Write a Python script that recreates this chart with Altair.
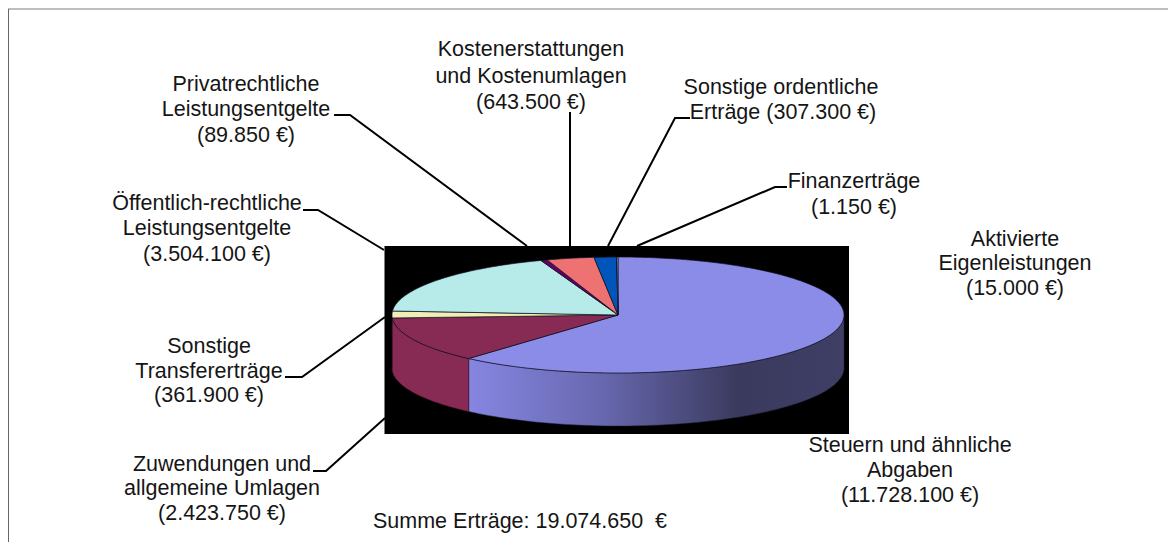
import math
import altair as alt
import pandas as pd

names = ["Steuern", "Zuwendungen", "Transfer", "Oeffentlich", "Privat", "Kosten", "Sonstige", "Finanz", "Aktiviert"]
values = [11728100, 2423750, 361900, 3504100, 89850, 643500, 307300, 1150, 15000]
colors = ["#8b8be8", "#872b55", "#f3efb4", "#b6ebe9", "#660066", "#ee7272", "#0055bb", "#333399", "#99ccff"]

label_lines = ["Steuern und ähnliche", "Abgaben", "(11.728.100 €)",
               "Zuwendungen und", "allgemeine Umlagen", "(2.423.750 €)",
               "Sonstige", "Transfererträge", "(361.900 €)",
               "Öffentlich-rechtliche", "Leistungsentgelte", "(3.504.100 €)",
               "Privatrechtliche", "Leistungsentgelte", "(89.850 €)",
               "Kostenerstattungen", "und Kostenumlagen", "(643.500 €)",
               "Sonstige ordentliche", "Erträge (307.300 €)",
               "Finanzerträge", "(1.150 €)",
               "Aktivierte", "Eigenleistungen", "(15.000 €)"]
label_x = [910, 910, 910, 222, 222, 222, 209, 209, 209, 207, 207, 207, 246, 246, 246,
           531, 531, 531, 781, 783, 854, 854, 1015, 1015, 1015]
label_y = [446, 471, 496, 465, 489, 514, 347, 372, 396, 204, 229, 255, 85, 110, 136,
           50, 77, 103, 88, 113, 182, 208, 240, 264, 289]
total_label = "Summe Erträge: 19.074.650 \u00a0€"

leader_group = [0, 0, 0, 1, 1, 1, 2, 2, 2, 3, 3, 3, 4, 4, 5, 5, 5, 6, 6, 6]
leader_x = [313, 326, 385, 285, 302, 385, 303, 318, 384, 334, 350, 527, 570, 570,
            690, 675, 608, 787, 775, 637]
leader_y = [471, 471, 418, 377, 377, 317, 210, 210, 250, 115, 115, 246, 112, 246,
            118, 118, 246, 187, 187, 246]

# pie geometry
CX, CY, A, B, DEPTH = 618, 315, 226, 58, 53
FONT_SIZE = 21.5
total = sum(values)
X = alt.Scale(domain=[8, 1168], range=[0, 1160], nice=False, zero=False)
Y = alt.Scale(domain=[8, 542], range=[0, 534], nice=False, zero=False)
xa = lambda f: alt.X(f, type="quantitative", scale=X, axis=None)
ya = lambda f: alt.Y(f, type="quantitative", scale=Y, axis=None)


def pt(t):
    return CX + A * math.sin(t), CY - B * math.cos(t)


features, cum = [], 0.0
edges = []
for n, v, c in zip(names, values, colors):
    t0 = cum / total * 2 * math.pi
    cum += v
    t1 = cum / total * 2 * math.pi
    edges.append((t0, t1))
    steps = max(2, int((t1 - t0) / 0.02))
    ring = [[CX, CY]] + [list(pt(t0 + (t1 - t0) * i / steps)) for i in range(steps + 1)] + [[CX, CY]]
    features.append({"type": "Feature", "geometry": {"type": "Polygon", "coordinates": [ring]},
                     "properties": {"name": n, "color": c}})


def wall(t0, t1):
    t0, t1 = max(t0, math.pi / 2), min(t1, 1.5 * math.pi)
    steps = 80
    rows = []
    for i in range(steps + 1):
        x, y = pt(t0 + (t1 - t0) * i / steps)
        rows.append({"x": x, "y": y, "y2": y + DEPTH})
    return pd.DataFrame(rows)


backdrop = alt.Chart(pd.DataFrame({"x": [384.5], "x2": [849], "y": [246], "y2": [434]})).mark_rect(
    color="#000000").encode(x=xa("x"), x2="x2", y=ya("y"), y2="y2")

frame_top = alt.Chart(pd.DataFrame({"x": [8], "x2": [1168], "y": [9]})).mark_rule(
    color="#bdbdbd", strokeWidth=2).encode(x=xa("x"), x2="x2", y=ya("y"))
frame_left = alt.Chart(pd.DataFrame({"x": [8.5], "y": [9], "y2": [542]})).mark_rule(
    color="#666666", strokeWidth=1).encode(x=xa("x"), y=ya("y"), y2="y2")

wall_blue = alt.Chart(wall(*edges[0])).mark_area(
    orient="vertical", stroke="#23233c", strokeWidth=0.5,
    fill=alt.Gradient(gradient="linear", x1=0, x2=1, y1=0, y2=0, stops=[
        alt.GradientStop(offset=0, color="#8686e2"),
        alt.GradientStop(offset=0.35, color="#6868b0"),
        alt.GradientStop(offset=0.72, color="#3a3a5e"),
        alt.GradientStop(offset=1, color="#3f3f66"),
    ])).encode(x=xa("x"), y=ya("y"), y2="y2")
wall_red = alt.Chart(wall(*edges[1])).mark_area(
    orient="vertical", fill="#872b55", stroke="#3a1026", strokeWidth=0.5
).encode(x=xa("x"), y=ya("y"), y2="y2")

top = alt.Chart(alt.Data(values=features)).mark_geoshape(
    stroke="#111122", strokeWidth=0.7
).encode(color=alt.Color("properties.color:N", scale=None)).project(
    type="identity", scale=1, translate=[-8, -8])

leaders = alt.Chart(pd.DataFrame({
    "g": leader_group, "x": leader_x, "y": leader_y, "i": range(len(leader_x))
})).mark_line(color="#000000", strokeWidth=2).encode(
    x=xa("x"), y=ya("y"), detail="g:N", order="i:Q")

labels = alt.Chart(pd.DataFrame({"t": label_lines, "x": label_x, "y": label_y})).mark_text(
    font="Liberation Sans", fontSize=FONT_SIZE, color="#151515", align="center", baseline="middle"
).encode(x=xa("x"), y=ya("y"), text="t:N")

summe = alt.Chart(pd.DataFrame({"t": [total_label], "x": [373], "y": [522]})).mark_text(
    font="Liberation Sans", fontSize=FONT_SIZE, color="#151515", align="left", baseline="middle"
).encode(x=xa("x"), y=ya("y"), text="t:N")

chart = alt.layer(frame_top, frame_left, backdrop, wall_blue, wall_red, top, leaders, labels, summe).properties(
    width=1160, height=534, padding=0, background="#ffffff",
    autosize=alt.AutoSizeParams(type="none"),
).configure_view(stroke=None)

chart.save("out.html", embed_options={"renderer": "svg", "actions": False})
